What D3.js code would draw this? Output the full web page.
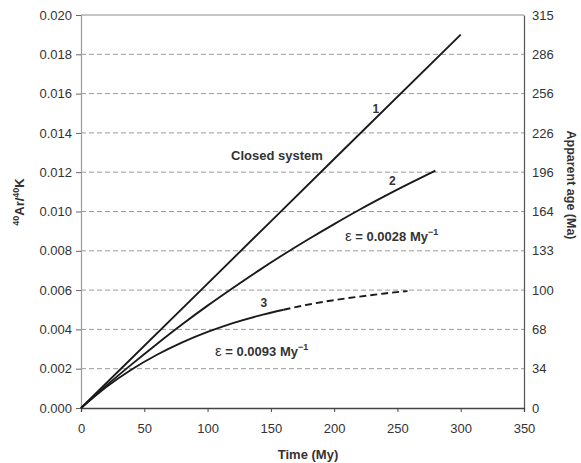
<!DOCTYPE html>
<html><head><meta charset="utf-8">
<script src="https://cdn.jsdelivr.net/npm/d3@7"></script>
<style>
body{margin:0;background:#fff}
svg{display:block}
text{font-family:"Liberation Sans",Arial,Helvetica,sans-serif}
</style>
</head><body>
<svg id="c" width="581" height="463"></svg>
<script>
// ---- data ----
const time1  = [0, 100, 200, 300];
const ratio1 = [0, 0.00633, 0.01267, 0.0190];

const time2  = [0, 20, 40, 60, 80, 100, 120, 140, 160, 180, 200, 220, 240, 260, 280];
const ratio2 = [0, 0.00114, 0.00222, 0.00326, 0.00426, 0.00521, 0.00611, 0.00698, 0.00781, 0.00860, 0.00936, 0.01009, 0.01078, 0.01144, 0.01208];

const time3  = [0, 20, 40, 60, 80, 100, 120, 140, 160, 180, 200, 220, 240, 258];
const ratio3 = [0, 0.00107, 0.00196, 0.00271, 0.00334, 0.00387, 0.00432, 0.00469, 0.00500, 0.00527, 0.00549, 0.00567, 0.00583, 0.00595];
const line3SolidUntil = 160;   // beyond this time the curve is dashed

const xTicks = [0, 50, 100, 150, 200, 250, 300, 350];
const yTicks = [0, 0.002, 0.004, 0.006, 0.008, 0.010, 0.012, 0.014, 0.016, 0.018, 0.020];
const ageLabels = ["0", "34", "68", "100", "133", "164", "196", "226", "256", "286", "315"];

const curveLabels = [
  {t: "1", x: 233, y: 0.0150},
  {t: "2", x: 246, y: 0.01135},
  {t: "3", x: 144.5, y: 0.00515}
];

// ---- drawing ----
const svg = d3.select("#c");
const x = d3.scaleLinear().domain([0, 350]).range([81, 524]);
const y = d3.scaleLinear().domain([0, 0.020]).range([408, 15]);
const textCol = "#333";

// gridlines
svg.append("g").selectAll("line").data(yTicks.slice(1, -1)).join("line")
  .attr("x1", x(0)).attr("x2", x(350))
  .attr("y1", d => y(d)).attr("y2", d => y(d))
  .attr("stroke", "#9a9a9a").attr("stroke-width", 1).attr("stroke-dasharray", "5,3");

// frame
svg.append("line").attr("x1", x(0)).attr("x2", x(350)).attr("y1", y(0.02)).attr("y2", y(0.02))
  .attr("stroke", "#8c8c8c").attr("stroke-width", 1);

// left axis
const gL = svg.append("g").attr("transform", `translate(${x(0)},0)`)
  .call(d3.axisLeft(y).tickValues(yTicks).tickFormat(d3.format(".3f")).tickSize(5).tickPadding(4));
gL.select(".domain").attr("stroke", "#9a9a9a").attr("stroke-width", 1.2);
gL.selectAll(".tick line").attr("stroke", "#666");
gL.selectAll("text").attr("font-size", 13).attr("fill", textCol);

// right axis
const gR = svg.append("g").attr("transform", `translate(${x(350)},0)`)
  .call(d3.axisRight(y).tickValues(yTicks).tickFormat((d, i) => ageLabels[i]).tickSize(0).tickPadding(8));
gR.select(".domain").attr("stroke", "#555").attr("stroke-width", 1.2);
gR.selectAll("text").attr("font-size", 13).attr("fill", textCol);

// bottom axis
const gB = svg.append("g").attr("transform", `translate(0,${y(0)})`)
  .call(d3.axisBottom(x).tickValues(xTicks).tickSize(4).tickPadding(12));
gB.select(".domain").attr("stroke", "#444").attr("stroke-width", 1.3);
gB.selectAll(".tick line").attr("stroke", "#444");
gB.selectAll("text").attr("font-size", 13).attr("fill", textCol);

// curves
const line = d3.line().x(d => x(d[0])).y(d => y(d[1])).curve(d3.curveMonotoneX);
const s1 = time1.map((t, i) => [t, ratio1[i]]);
const s2 = time2.map((t, i) => [t, ratio2[i]]);
const s3 = time3.map((t, i) => [t, ratio3[i]]);
const s3a = s3.filter(d => d[0] <= line3SolidUntil);
const s3b = s3.filter(d => d[0] >= line3SolidUntil);

[[s1, null], [s2, null], [s3a, null], [s3b, "7,4"]].forEach(([d, dash]) => {
  svg.append("path").datum(d).attr("d", line)
    .attr("fill", "none").attr("stroke", "#1a1a1a").attr("stroke-width", 1.9)
    .attr("stroke-dasharray", dash);
});

// curve labels
svg.append("g").selectAll("text").data(curveLabels).join("text")
  .attr("x", d => x(d.x)).attr("y", d => y(d.y))
  .attr("text-anchor", "middle").attr("font-size", 12).attr("font-weight", "bold").attr("fill", textCol)
  .text(d => d.t);

// annotations
svg.append("text").attr("x", 277).attr("y", 160).attr("text-anchor", "middle")
  .attr("font-size", 13).attr("font-weight", "bold").attr("fill", textCol).text("Closed system");

function epsLabel(px, py, val) {
  const t = svg.append("text").attr("x", px).attr("y", py)
    .attr("font-size", 13).attr("font-weight", "bold").attr("fill", textCol);
  t.append("tspan").attr("font-weight", "normal").attr("font-size", 15).text("\u03b5");
  t.append("tspan").text(" = " + val + " My");
  t.append("tspan").attr("dy", -6).attr("font-size", 9).text("\u22121");
}
epsLabel(345, 241, "0.0028");
epsLabel(215, 356, "0.0093");

// axis titles
svg.append("text").attr("x", 308).attr("y", 459).attr("text-anchor", "middle")
  .attr("font-size", 13).attr("font-weight", "bold").attr("fill", textCol).text("Time (My)");

svg.append("text").attr("transform", "translate(567,185) rotate(90)").attr("text-anchor", "middle")
  .attr("font-size", 12.5).attr("font-weight", "bold").attr("fill", textCol).text("Apparent age (Ma)");

const yl = svg.append("text").attr("transform", "translate(24,202) rotate(-90)").attr("text-anchor", "middle")
  .attr("font-size", 13).attr("font-weight", "bold").attr("fill", textCol);
yl.append("tspan").attr("font-size", 9).attr("dy", -5).text("40");
yl.append("tspan").attr("dy", 5).text("Ar/");
yl.append("tspan").attr("font-size", 9).attr("dy", -5).text("40");
yl.append("tspan").attr("dy", 5).text("K");
</script>
</body></html>
